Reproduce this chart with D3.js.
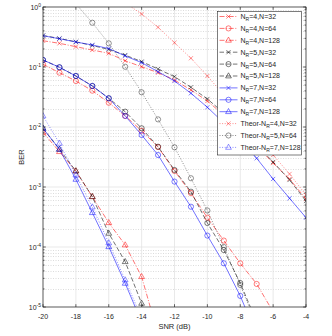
<!DOCTYPE html>
<html>
<head>
<meta charset="utf-8">
<script src="https://cdn.jsdelivr.net/npm/d3@7"></script>
<style>
  body { margin: 0; background: #fff; }
  svg { display: block; font-family: "Liberation Sans", Arial, sans-serif; }
</style>
</head>
<body>
<svg id="chart" width="332" height="336"></svg>
<script>
// SNR grids (dB)
var snr = [-20, -19, -18, -17, -16, -15, -14, -13, -12, -11, -10, -9, -8, -7, -6, -5, -4];
var snrTheor32 = [-15, -14, -13, -12, -11, -10, -9, -8, -7, -6, -5, -4];
var snrTheor64 = [-18, -17, -16, -15, -14, -13, -12, -11, -10, -9, -8, -7];

// simulated BER, N=32
var berR4N32 = [0.274, 0.248, 0.218, 0.192, 0.169, 0.127, 0.101, 0.0804, 0.0607, 0.0414, 0.0271, 0.0158, 0.00891, 0.00483, 0.00251, 0.00136, 0.000631];
var berR5N32 = [0.335, 0.299, 0.263, 0.228, 0.196, 0.158, 0.123, 0.0926, 0.0690, 0.0459, 0.0293, 0.0171, 0.00962, 0.00501, 0.00261, 0.00131, 0.000585];
var berR7N32 = [0.332, 0.296, 0.261, 0.233, 0.203, 0.153, 0.118, 0.0835, 0.0584, 0.0365, 0.0213, 0.0117, 0.00607, 0.00301, 0.00136, 0.000648, 0.000308];

// simulated BER, N=64
var berR4N64 = [0.111, 0.0804, 0.0584, 0.0403, 0.0254, 0.0153, 0.00867, 0.00464, 0.00185, 0.000794, 0.000308, 0.000128, 5.35e-5, 2.42e-5, 8.3e-6];
var berR5N64 = [0.131, 0.0989, 0.0708, 0.0483, 0.0301, 0.0180, 0.00952, 0.00469, 0.00192, 0.000835, 0.000251, 8.91e-5, 2.51e-5, 5.6e-6];
var berR7N64 = [0.131, 0.0989, 0.0708, 0.0483, 0.0301, 0.0153, 0.00736, 0.00341, 0.00123, 0.000469, 0.000155, 5.35e-5, 1.53e-5, 3.4e-6];

// simulated BER, N=128
var berR4N128 = [0.00816, 0.00388, 0.00185, 0.000689, 0.000254, 0.000108, 3.2e-5, 3.5e-6];
var berR5N128 = [0.00952, 0.00425, 0.00185, 0.000689, 0.000169, 5.69e-5, 1.15e-5, 2.5e-6];
var berR7N128 = [0.00952, 0.00425, 0.00134, 0.000373, 0.000101, 2.48e-5, 5.6e-6];

// theoretical BER
var berTheorR4N32 = [1.17, 0.765, 0.459, 0.254, 0.140, 0.0708, 0.0341, 0.0165, 0.00736, 0.00341, 0.00165, 0.000736];
var berTheorR5N64 = [1.13, 0.547, 0.248, 0.101, 0.0379, 0.0134, 0.00459, 0.0014, 0.000406, 1.0e-4, 2.33e-5, 5.0e-6];
var berTheorR7N128 = [0.0153, 0.00535, 0.00158, 0.000464, 0.000117, 2.82e-5, 6.6e-6];

// tick labels
var xTicks = [-20, -18, -16, -14, -12, -10, -8, -6, -4];
var yTickExp = [0, -1, -2, -3, -4, -5];

var red = "#ff0000", black = "#000000", blue = "#0000ff";
var dashDot = "5,1.6,1,1.6", dashed = "4.5,2.2", dotted = "1,1.6";

var series = [
  { theor: false, nr: 4, n: 32,  x: snr, y: berR4N32,  color: red,   dash: dashDot, marker: "x" },
  { theor: false, nr: 4, n: 64,  x: snr, y: berR4N64,  color: red,   dash: dashDot, marker: "o" },
  { theor: false, nr: 4, n: 128, x: snr, y: berR4N128, color: red,   dash: dashDot, marker: "^" },
  { theor: false, nr: 5, n: 32,  x: snr, y: berR5N32,  color: black, dash: dashed,  marker: "x" },
  { theor: false, nr: 5, n: 64,  x: snr, y: berR5N64,  color: black, dash: dashed,  marker: "o" },
  { theor: false, nr: 5, n: 128, x: snr, y: berR5N128, color: black, dash: dashed,  marker: "^" },
  { theor: false, nr: 7, n: 32,  x: snr, y: berR7N32,  color: blue,  dash: null,    marker: "x" },
  { theor: false, nr: 7, n: 64,  x: snr, y: berR7N64,  color: blue,  dash: null,    marker: "o" },
  { theor: false, nr: 7, n: 128, x: snr, y: berR7N128, color: blue,  dash: null,    marker: "^" },
  { theor: true,  nr: 4, n: 32,  x: snrTheor32, y: berTheorR4N32,  color: red,   dash: dotted, marker: "x" },
  { theor: true,  nr: 5, n: 64,  x: snrTheor64, y: berTheorR5N64,  color: black, dash: dotted, marker: "o" },
  { theor: true,  nr: 7, n: 128, x: snr,        y: berTheorR7N128, color: blue,  dash: dotted, marker: "^" }
];

var svg = d3.select("#chart");
var pLeft = 43, pRight = 306, pTop = 7, pBottom = 307;
var axisColor = "#262626";

var xScale = d3.scaleLinear().domain([-20, -4]).range([pLeft, pRight]);
var yScale = d3.scaleLog().domain([1e-5, 1]).range([pBottom, pTop]);

// minor decade values
var minorVals = [];
yTickExp.forEach(function(e) {
  if (e === 0) return;
  for (var k = 2; k <= 9; k++) minorVals.push(k * Math.pow(10, e));
});

// grid
var grid = svg.append("g").attr("class", "grid");
grid.selectAll(".ygrid-minor").data(minorVals).enter().append("line")
    .attr("x1", pLeft).attr("x2", pRight)
    .attr("y1", function(d) { return Math.round(yScale(d)) + 0.5; })
    .attr("y2", function(d) { return Math.round(yScale(d)) + 0.5; })
    .attr("stroke", "#c4c4c4").attr("stroke-width", 0.6)
    .attr("stroke-dasharray", "1,1.5");
grid.selectAll(".xgrid").data(xTicks).enter().append("line")
    .attr("x1", function(d) { return xScale(d); }).attr("x2", function(d) { return xScale(d); })
    .attr("y1", pTop).attr("y2", pBottom)
    .attr("stroke", "#e3e3e3").attr("stroke-width", 0.8);
grid.selectAll(".ygrid").data(yTickExp).enter().append("line")
    .attr("x1", pLeft).attr("x2", pRight)
    .attr("y1", function(e) { return yScale(Math.pow(10, e)); })
    .attr("y2", function(e) { return yScale(Math.pow(10, e)); })
    .attr("stroke", "#e3e3e3").attr("stroke-width", 0.8);

// curves
svg.append("clipPath").attr("id", "plotClip")
   .append("rect").attr("x", pLeft).attr("y", pTop)
   .attr("width", pRight - pLeft).attr("height", pBottom - pTop);

var plot = svg.append("g").attr("clip-path", "url(#plotClip)");

function markerPath(type, cx, cy) {
  if (type === "x") {
    var a = 2.1;
    return "M" + (cx - a) + "," + (cy - a) + "L" + (cx + a) + "," + (cy + a) +
           "M" + (cx - a) + "," + (cy + a) + "L" + (cx + a) + "," + (cy - a);
  }
  if (type === "o") {
    var r = 2.6;
    return "M" + (cx - r) + "," + cy + "a" + r + "," + r + " 0 1,0 " + (2 * r) + ",0" +
           "a" + r + "," + r + " 0 1,0 " + (-2 * r) + ",0";
  }
  return "M" + cx + "," + (cy - 3.2) + "L" + (cx + 2.9) + "," + (cy + 1.9) +
         "L" + (cx - 2.9) + "," + (cy + 1.9) + "Z";
}

var line = d3.line();

series.forEach(function(s) {
  var pts = s.y.map(function(v, i) { return [xScale(s.x[i]), yScale(v)]; });
  var op = s.theor ? 0.7 : 0.85;
  var g = plot.append("g");
  g.append("path")
   .attr("d", line(pts))
   .attr("fill", "none")
   .attr("stroke", s.color)
   .attr("stroke-width", 0.65)
   .attr("stroke-opacity", op)
   .attr("stroke-dasharray", s.dash);
  g.selectAll("path.mk").data(pts).enter().append("path")
   .attr("class", "mk")
   .attr("d", function(p) { return markerPath(s.marker, p[0], p[1]); })
   .attr("fill", "none")
   .attr("stroke", s.color)
   .attr("stroke-opacity", op)
   .attr("stroke-width", 0.6);
});

// axes box and ticks
var axes = svg.append("g").attr("stroke", axisColor).attr("stroke-width", 0.7);
axes.append("rect").attr("x", pLeft).attr("y", pTop)
    .attr("width", pRight - pLeft).attr("height", pBottom - pTop).attr("fill", "none");

xTicks.forEach(function(t) {
  var x = xScale(t);
  axes.append("line").attr("x1", x).attr("x2", x).attr("y1", pBottom).attr("y2", pBottom - 2.8);
  axes.append("line").attr("x1", x).attr("x2", x).attr("y1", pTop).attr("y2", pTop + 2.8);
});
yTickExp.forEach(function(e) {
  var y = yScale(Math.pow(10, e));
  axes.append("line").attr("x1", pLeft).attr("x2", pLeft + 2.8).attr("y1", y).attr("y2", y);
  axes.append("line").attr("x1", pRight).attr("x2", pRight - 2.8).attr("y1", y).attr("y2", y);
});
minorVals.forEach(function(v) {
  var y = yScale(v);
  axes.append("line").attr("x1", pLeft).attr("x2", pLeft + 1.5).attr("y1", y).attr("y2", y);
  axes.append("line").attr("x1", pRight).attr("x2", pRight - 1.5).attr("y1", y).attr("y2", y);
});

// tick labels
svg.append("g").selectAll("text").data(xTicks).enter().append("text")
   .attr("x", function(d) { return xScale(d); })
   .attr("y", 318.5)
   .attr("text-anchor", "middle")
   .attr("font-size", 7)
   .attr("fill", axisColor)
   .text(function(d) { return "-" + Math.abs(d); });

var yLab = svg.append("g").selectAll("text").data(yTickExp).enter().append("text")
   .attr("x", 41)
   .attr("y", function(e) { return yScale(Math.pow(10, e)) + 2.8; })
   .attr("text-anchor", "end")
   .attr("font-size", 7)
   .attr("fill", axisColor);
yLab.append("tspan").text("10");
yLab.append("tspan").attr("dy", -3).attr("font-size", 5)
    .text(function(e) { return e === 0 ? "0" : "-" + Math.abs(e); });

svg.append("text")
   .attr("x", (pLeft + pRight) / 2).attr("y", 328.5)
   .attr("text-anchor", "middle").attr("font-size", 7.5).attr("fill", axisColor)
   .text("SNR (dB)");
svg.append("text")
   .attr("transform", "translate(24," + ((pTop + pBottom) / 2) + ") rotate(-90)")
   .attr("text-anchor", "middle").attr("font-size", 7.5).attr("fill", axisColor)
   .text("BER");

// legend
var lgX = 217.5, lgY = 11.5, lgW = 84, lgH = 143.5, rowH = 11.9;
var legend = svg.append("g");
legend.append("rect").attr("x", lgX).attr("y", lgY).attr("width", lgW).attr("height", lgH)
      .attr("fill", "#fff").attr("stroke", axisColor).attr("stroke-width", 0.6);

series.forEach(function(s, i) {
  var y = lgY + 5 + i * rowH;
  var op = s.theor ? 0.7 : 0.85;
  legend.append("line").attr("x1", lgX + 2).attr("x2", lgX + 20).attr("y1", y).attr("y2", y)
        .attr("stroke", s.color).attr("stroke-width", 0.65)
        .attr("stroke-opacity", op)
        .attr("stroke-dasharray", s.dash);
  legend.append("path").attr("d", markerPath(s.marker, lgX + 11, y))
        .attr("fill", "none").attr("stroke", s.color).attr("stroke-width", 0.6)
        .attr("stroke-opacity", op);
  var t = legend.append("text").attr("x", lgX + 23).attr("y", y + 2.4)
        .attr("font-size", 7).attr("fill", axisColor);
  t.append("tspan").text(s.theor ? "Theor-N" : "N");
  t.append("tspan").attr("dy", 2).attr("font-size", 5).text("R");
  t.append("tspan").attr("dy", -2).text("=" + s.nr + ",N=" + s.n);
});
</script>
</body>
</html>
